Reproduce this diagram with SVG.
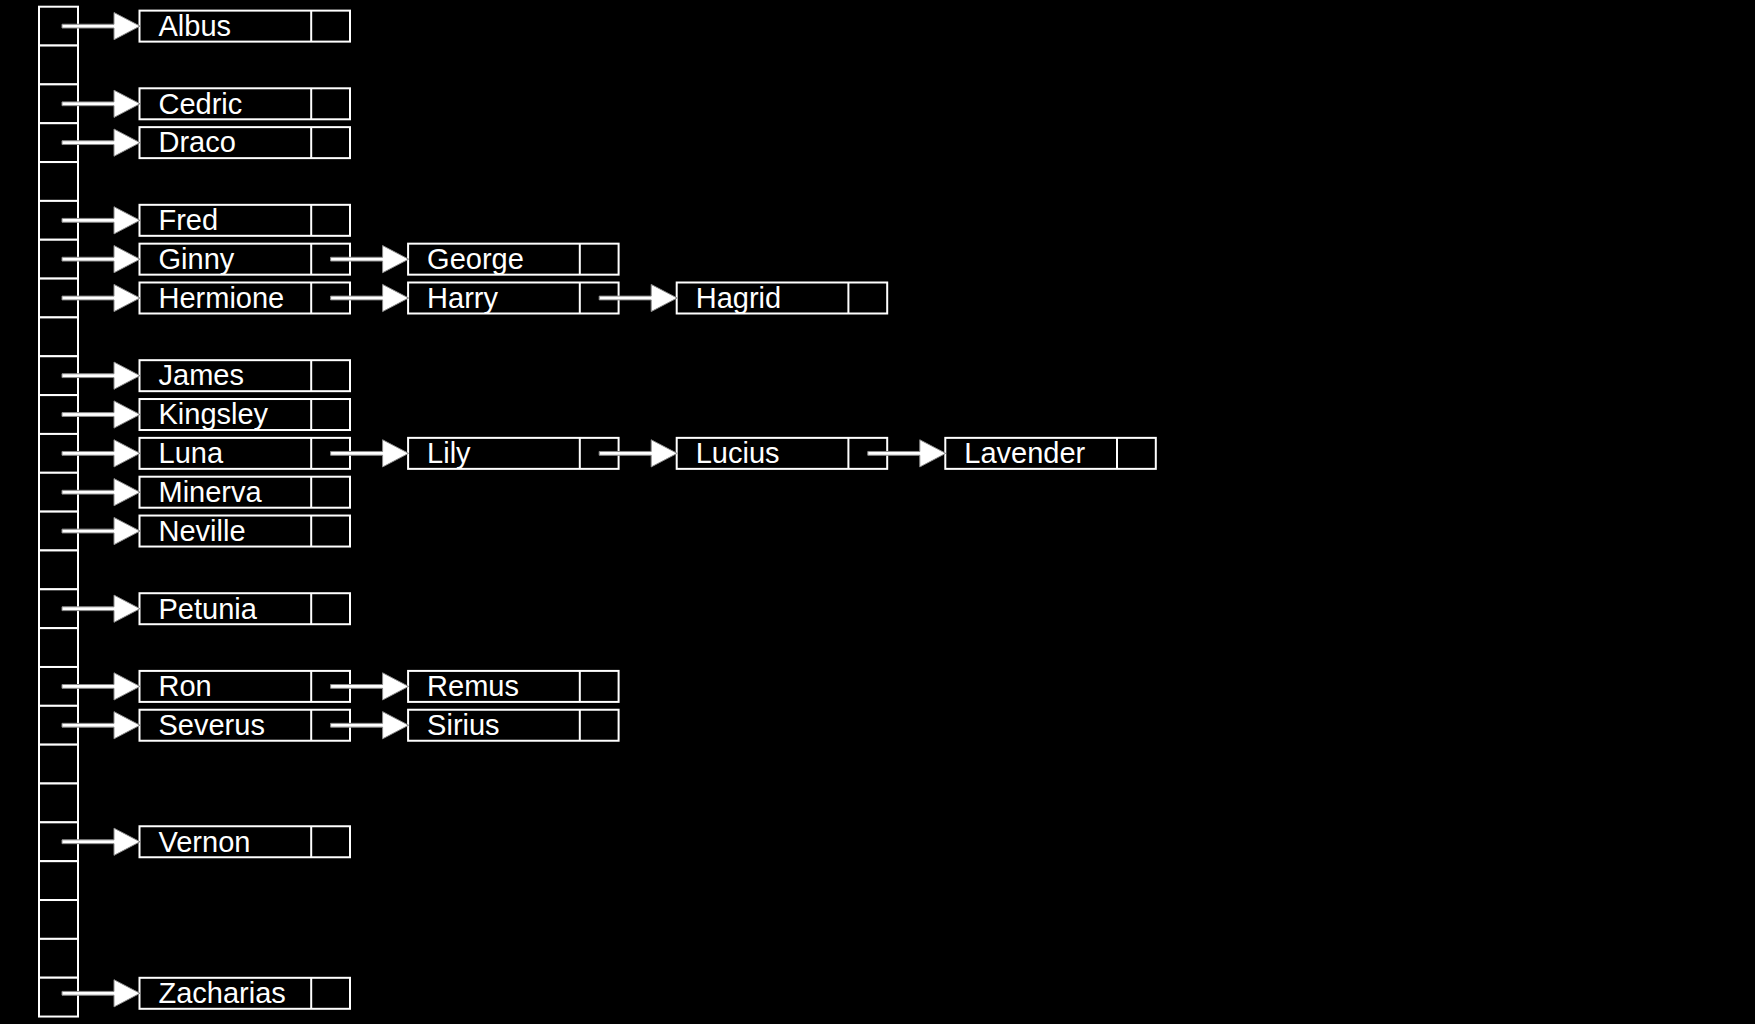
<svg xmlns="http://www.w3.org/2000/svg" xmlns:xlink="http://www.w3.org/1999/xlink" width="1755" height="1024" viewBox="0 0 1755 1024">
<style>
.bg{fill:#000}
.cell{fill:#000;stroke:#fff;stroke-width:2}
.box{fill:#000;stroke:#fff;stroke-width:2}
.div{stroke:#fff;stroke-width:2}
.lbl{fill:#fff;font-family:"Liberation Sans",Arial,sans-serif;font-size:29px}
.arr{fill:#fff;stroke:#8a8a8a;stroke-width:1}
</style>
<defs>
<path id="arrow" class="arr" d="M0,-1.9 H52 V-13.6 L78,0 L52,13.6 V1.9 H0 Z"/>
<g id="node">
<rect class="box" x="0" y="-15.5" width="210.5" height="31"/>
<line class="div" x1="171.7" y1="-15.5" x2="171.7" y2="15.5"/>
</g>
</defs>
<rect class="bg" x="0" y="0" width="1755" height="1024"/>
<g id="array">
<rect class="cell" x="39" y="6.7" width="39" height="38.84"/>
<rect class="cell" x="39" y="45.54" width="39" height="38.84"/>
<rect class="cell" x="39" y="84.38" width="39" height="38.84"/>
<rect class="cell" x="39" y="123.22" width="39" height="38.84"/>
<rect class="cell" x="39" y="162.06" width="39" height="38.84"/>
<rect class="cell" x="39" y="200.9" width="39" height="38.84"/>
<rect class="cell" x="39" y="239.74" width="39" height="38.84"/>
<rect class="cell" x="39" y="278.58" width="39" height="38.84"/>
<rect class="cell" x="39" y="317.42" width="39" height="38.84"/>
<rect class="cell" x="39" y="356.26" width="39" height="38.84"/>
<rect class="cell" x="39" y="395.1" width="39" height="38.84"/>
<rect class="cell" x="39" y="433.94" width="39" height="38.84"/>
<rect class="cell" x="39" y="472.78" width="39" height="38.84"/>
<rect class="cell" x="39" y="511.62" width="39" height="38.84"/>
<rect class="cell" x="39" y="550.46" width="39" height="38.84"/>
<rect class="cell" x="39" y="589.3" width="39" height="38.84"/>
<rect class="cell" x="39" y="628.14" width="39" height="38.84"/>
<rect class="cell" x="39" y="666.98" width="39" height="38.84"/>
<rect class="cell" x="39" y="705.82" width="39" height="38.84"/>
<rect class="cell" x="39" y="744.66" width="39" height="38.84"/>
<rect class="cell" x="39" y="783.5" width="39" height="38.84"/>
<rect class="cell" x="39" y="822.34" width="39" height="38.84"/>
<rect class="cell" x="39" y="861.18" width="39" height="38.84"/>
<rect class="cell" x="39" y="900.02" width="39" height="38.84"/>
<rect class="cell" x="39" y="938.86" width="39" height="38.84"/>
<rect class="cell" x="39" y="977.7" width="39" height="38.84"/>
</g>
<g id="nodes">
<g id="n-albus" transform="translate(139.5,26.12)"><use xlink:href="#node" href="#node"/><text class="lbl" x="19" y="9.8">Albus</text></g>
<g id="n-cedric" transform="translate(139.5,103.8)"><use xlink:href="#node" href="#node"/><text class="lbl" x="19" y="9.8">Cedric</text></g>
<g id="n-draco" transform="translate(139.5,142.64)"><use xlink:href="#node" href="#node"/><text class="lbl" x="19" y="9.8">Draco</text></g>
<g id="n-fred" transform="translate(139.5,220.32)"><use xlink:href="#node" href="#node"/><text class="lbl" x="19" y="9.8">Fred</text></g>
<g id="n-ginny" transform="translate(139.5,259.16)"><use xlink:href="#node" href="#node"/><text class="lbl" x="19" y="9.8">Ginny</text></g>
<g id="n-george" transform="translate(408.1,259.16)"><use xlink:href="#node" href="#node"/><text class="lbl" x="19" y="9.8">George</text></g>
<g id="n-hermione" transform="translate(139.5,298)"><use xlink:href="#node" href="#node"/><text class="lbl" x="19" y="9.8">Hermione</text></g>
<g id="n-harry" transform="translate(408.1,298)"><use xlink:href="#node" href="#node"/><text class="lbl" x="19" y="9.8">Harry</text></g>
<g id="n-hagrid" transform="translate(676.7,298)"><use xlink:href="#node" href="#node"/><text class="lbl" x="19" y="9.8">Hagrid</text></g>
<g id="n-james" transform="translate(139.5,375.68)"><use xlink:href="#node" href="#node"/><text class="lbl" x="19" y="9.8">James</text></g>
<g id="n-kingsley" transform="translate(139.5,414.52)"><use xlink:href="#node" href="#node"/><text class="lbl" x="19" y="9.8">Kingsley</text></g>
<g id="n-luna" transform="translate(139.5,453.36)"><use xlink:href="#node" href="#node"/><text class="lbl" x="19" y="9.8">Luna</text></g>
<g id="n-lily" transform="translate(408.1,453.36)"><use xlink:href="#node" href="#node"/><text class="lbl" x="19" y="9.8">Lily</text></g>
<g id="n-lucius" transform="translate(676.7,453.36)"><use xlink:href="#node" href="#node"/><text class="lbl" x="19" y="9.8">Lucius</text></g>
<g id="n-lavender" transform="translate(945.3,453.36)"><use xlink:href="#node" href="#node"/><text class="lbl" x="19" y="9.8">Lavender</text></g>
<g id="n-minerva" transform="translate(139.5,492.2)"><use xlink:href="#node" href="#node"/><text class="lbl" x="19" y="9.8">Minerva</text></g>
<g id="n-neville" transform="translate(139.5,531.04)"><use xlink:href="#node" href="#node"/><text class="lbl" x="19" y="9.8">Neville</text></g>
<g id="n-petunia" transform="translate(139.5,608.72)"><use xlink:href="#node" href="#node"/><text class="lbl" x="19" y="9.8">Petunia</text></g>
<g id="n-ron" transform="translate(139.5,686.4)"><use xlink:href="#node" href="#node"/><text class="lbl" x="19" y="9.8">Ron</text></g>
<g id="n-remus" transform="translate(408.1,686.4)"><use xlink:href="#node" href="#node"/><text class="lbl" x="19" y="9.8">Remus</text></g>
<g id="n-severus" transform="translate(139.5,725.24)"><use xlink:href="#node" href="#node"/><text class="lbl" x="19" y="9.8">Severus</text></g>
<g id="n-sirius" transform="translate(408.1,725.24)"><use xlink:href="#node" href="#node"/><text class="lbl" x="19" y="9.8">Sirius</text></g>
<g id="n-vernon" transform="translate(139.5,841.76)"><use xlink:href="#node" href="#node"/><text class="lbl" x="19" y="9.8">Vernon</text></g>
<g id="n-zacharias" transform="translate(139.5,993.3)"><use xlink:href="#node" href="#node"/><text class="lbl" x="19" y="9.8">Zacharias</text></g>
</g>
<g id="connectors">
<use xlink:href="#arrow" href="#arrow" x="62" y="26.12"/>
<use xlink:href="#arrow" href="#arrow" x="62" y="103.8"/>
<use xlink:href="#arrow" href="#arrow" x="62" y="142.64"/>
<use xlink:href="#arrow" href="#arrow" x="62" y="220.32"/>
<use xlink:href="#arrow" href="#arrow" x="62" y="259.16"/>
<use xlink:href="#arrow" href="#arrow" x="62" y="298"/>
<use xlink:href="#arrow" href="#arrow" x="62" y="375.68"/>
<use xlink:href="#arrow" href="#arrow" x="62" y="414.52"/>
<use xlink:href="#arrow" href="#arrow" x="62" y="453.36"/>
<use xlink:href="#arrow" href="#arrow" x="62" y="492.2"/>
<use xlink:href="#arrow" href="#arrow" x="62" y="531.04"/>
<use xlink:href="#arrow" href="#arrow" x="62" y="608.72"/>
<use xlink:href="#arrow" href="#arrow" x="62" y="686.4"/>
<use xlink:href="#arrow" href="#arrow" x="62" y="725.24"/>
<use xlink:href="#arrow" href="#arrow" x="62" y="841.76"/>
<use xlink:href="#arrow" href="#arrow" x="62" y="993.3"/>
<use xlink:href="#arrow" href="#arrow" x="330.6" y="259.16"/>
<use xlink:href="#arrow" href="#arrow" x="330.6" y="298"/>
<use xlink:href="#arrow" href="#arrow" x="599.2" y="298"/>
<use xlink:href="#arrow" href="#arrow" x="330.6" y="453.36"/>
<use xlink:href="#arrow" href="#arrow" x="599.2" y="453.36"/>
<use xlink:href="#arrow" href="#arrow" x="867.8" y="453.36"/>
<use xlink:href="#arrow" href="#arrow" x="330.6" y="686.4"/>
<use xlink:href="#arrow" href="#arrow" x="330.6" y="725.24"/>
</g>
</svg>
